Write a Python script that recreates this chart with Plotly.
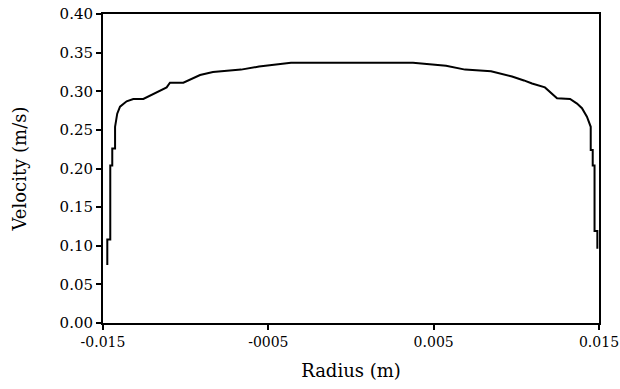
import plotly.graph_objects as go

# Velocity profile
radius = [-0.01474, -0.01474, -0.01456, -0.01456, -0.01444, -0.01444, -0.01427,
          -0.01427, -0.01414, -0.01397, -0.01357, -0.01317, -0.01256, -0.01196,
          -0.01115, -0.01095, -0.01014, -0.00913, -0.00835, -0.00665, -0.00556,
          -0.00363, 0.00375, 0.00575, 0.00690, 0.00847, 0.00907, 0.00974,
          0.01046, 0.01095, 0.01173, 0.01216, 0.01246, 0.01325, 0.01367,
          0.01397, 0.01415, 0.01427, 0.01450, 0.01450, 0.01462, 0.01462,
          0.01473, 0.01473, 0.01490, 0.01490]
velocity = [0.075, 0.108, 0.108, 0.204, 0.204, 0.226, 0.226,
            0.254, 0.271, 0.280, 0.287, 0.290, 0.290, 0.296,
            0.305, 0.311, 0.311, 0.321, 0.325, 0.328, 0.332,
            0.337, 0.337, 0.333, 0.328, 0.326, 0.323, 0.319,
            0.314, 0.310, 0.305, 0.296, 0.291, 0.290, 0.284,
            0.278, 0.272, 0.267, 0.254, 0.224, 0.224, 0.204,
            0.204, 0.119, 0.119, 0.096]

x_tickvals = [-0.015, -0.005, 0.005, 0.015]
x_ticktext = ["-0.015", "-0005", "0.005", "0.015"]
y_tickvals = [0.00, 0.05, 0.10, 0.15, 0.20, 0.25, 0.30, 0.35, 0.40]
y_ticktext = ["0.00", "0.05", "0.10", "0.15", "0.20", "0.25", "0.30", "0.35", "0.40"]

font_family = "DejaVu Serif"

fig = go.Figure()
fig.add_trace(go.Scatter(
    x=radius, y=velocity, mode="lines",
    line=dict(color="black", width=2),
    showlegend=False, hoverinfo="skip",
))

fig.update_layout(
    width=620, height=389,
    margin=dict(l=103, r=21, t=14, b=66),
    paper_bgcolor="white", plot_bgcolor="white",
    font=dict(family=font_family, size=16, color="black"),
)
fig.update_xaxes(
    range=[-0.015000001, 0.015000001], tickvals=x_tickvals, ticktext=x_ticktext,
    showgrid=False, zeroline=False, automargin=False,
    showline=True, linecolor="black", linewidth=2, mirror=True,
    ticks="outside", ticklen=5, tickwidth=2, tickcolor="black",
    ticklabeloverflow="allow",
    tickfont=dict(size=14),
    title=dict(text="Radius (m)", standoff=16, font=dict(size=18)),
)
fig.update_yaxes(
    range=[0, 0.4000001], tickvals=y_tickvals, ticktext=y_ticktext,
    showgrid=False, zeroline=False, automargin=False,
    showline=True, linecolor="black", linewidth=2, mirror=True,
    ticks="outside", ticklen=5, tickwidth=2, tickcolor="black",
    ticklabeloverflow="allow",
    tickfont=dict(size=15),
    title=dict(text="Velocity (m/s)", standoff=28, font=dict(size=18)),
)

fig.write_html("out.html")
